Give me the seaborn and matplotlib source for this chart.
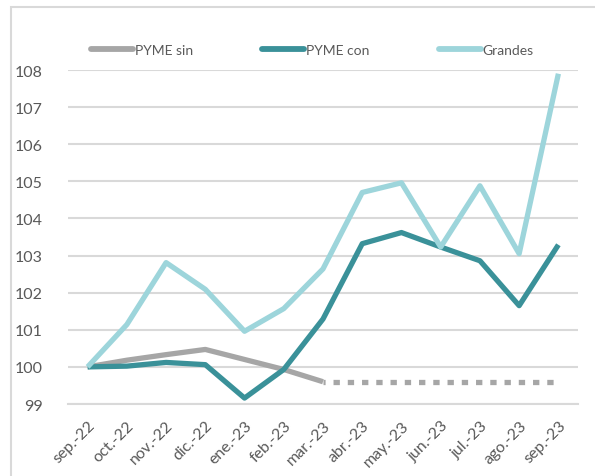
import numpy as np
import pandas as pd
import matplotlib
matplotlib.use("Agg")
import matplotlib.pyplot as plt
import seaborn as sns
from matplotlib.patches import Rectangle

months = ["sep.-22", "oct.-22", "nov.-22", "dic.-22", "ene.-23", "feb.-23", "mar.-23",
          "abr.-23", "may.-23", "jun.-23", "jul.-23", "ago.-23", "sep.-23"]
pyme_sin = [100.0, 100.18, 100.33, 100.47, 100.2, 99.93, 99.6]
pyme_sin_proy = [99.6] * 7          # mar.-23 .. sep.-23, dotted
pyme_con = [100.0, 100.02, 100.12, 100.06, 99.16, 99.93, 101.29,
            103.32, 103.62, 103.23, 102.86, 101.65, 103.29]
grandes = [100.0, 101.14, 102.81, 102.09, 100.96, 101.57, 102.64,
           104.70, 104.96, 103.23, 104.88, 103.05, 107.9]

C_SIN = "#a6a6a6"
C_CON = "#3a9199"
C_GRA = "#9dd5db"
GRID = "#d9d9d9"
TXT = "#595959"

sns.set_style("white")
plt.rcParams["font.family"] = ["Lato", "DejaVu Sans"]

fig = plt.figure(figsize=(5.95, 4.77), dpi=100)
ax = fig.add_axes([68 / 595, 1 - 405 / 477, 510 / 595, 334 / 477])

x_all = np.arange(len(months))
lw = 3.8
sns.lineplot(x=x_all[:len(pyme_sin)], y=pyme_sin, ax=ax, color=C_SIN, lw=lw,
             label="PYME sin", solid_capstyle="butt", legend=False)
sns.lineplot(x=x_all[6:6 + len(pyme_sin_proy)], y=pyme_sin_proy, ax=ax, color=C_SIN, lw=lw,
             linestyle=(0.8, (1.2, 1.5)), dash_capstyle="butt", legend=False)
sns.lineplot(x=x_all, y=pyme_con, ax=ax, color=C_CON, lw=lw, label="PYME con",
             solid_capstyle="butt", legend=False)
sns.lineplot(x=x_all, y=grandes, ax=ax, color=C_GRA, lw=lw, label="Grandes",
             solid_capstyle="butt", legend=False)

ax.set_xlim(-0.5, len(months) - 0.5)
ax.set_ylim(99, 108)
ax.set_yticks(range(99, 109))
ax.set_yticklabels([str(v) for v in range(99, 109)], fontsize=11.5, color=TXT)
ax.yaxis.grid(True, color=GRID, lw=1.5)
ax.set_axisbelow(True)

ax.set_xticks(x_all)
ax.set_xticklabels(months, rotation=45, ha="right", rotation_mode="anchor",
                   fontsize=11.5, color=TXT)
ax.set_xticks(np.arange(-0.5, len(months)), minor=True)
ax.tick_params(axis="x", which="major", length=0, pad=10)
ax.tick_params(axis="x", which="minor", length=5, width=1.3, color=GRID)
ax.tick_params(axis="y", length=0, pad=18)
for s in ["top", "right", "left"]:
    ax.spines[s].set_visible(False)
ax.spines["bottom"].set_color(GRID)
ax.spines["bottom"].set_linewidth(1.5)
ax.set_xlabel("")
ax.set_ylabel("")

handles = [plt.Line2D([], [], color=c, lw=4.2) for c in (C_SIN, C_CON, C_GRA)]
fig.legend(handles, ["PYME sin", "PYME con", "Grandes"], loc="center",
           bbox_to_anchor=(0.525, 1 - 51 / 477), ncol=3, frameon=False,
           fontsize=10, handlelength=3.0, handletextpad=0.15, columnspacing=5.0,
           labelcolor=TXT)

fig.patches.append(Rectangle((11 / 595, -0.2), 2, 1.2 - 8 / 477, transform=fig.transFigure,
                             fill=False, edgecolor=GRID, lw=1.5))

fig.savefig("out.png", dpi=100)
